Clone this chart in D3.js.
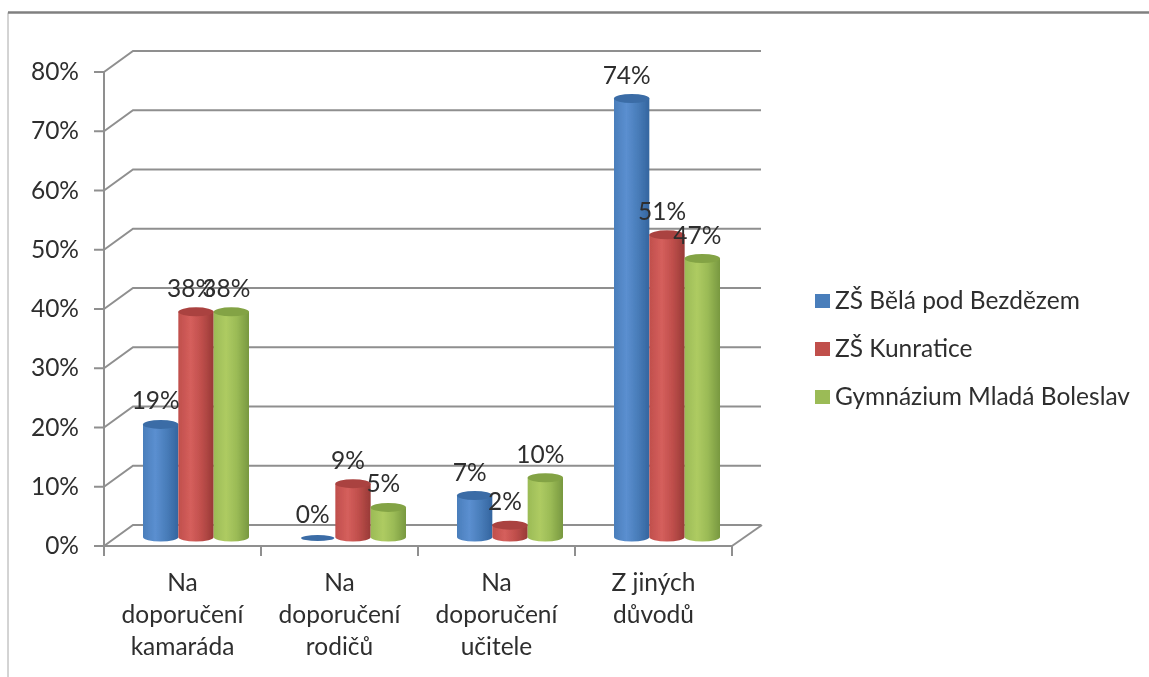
<!DOCTYPE html>
<html><head><meta charset="utf-8">
<script src="https://cdn.jsdelivr.net/npm/d3@7"></script>
<style>html,body{margin:0;padding:0;background:#fff}svg{display:block}text{font-family:Lato,"Open Sans",sans-serif;fill:#2e2e2e}</style>
</head><body><svg id="c" width="1149" height="677"></svg>
<script>
const categories=[["Na","doporučení","kamaráda"],["Na","doporučení","rodičů"],["Na","doporučení","učitele"],["Z jiných","důvodů"]];
const seriesNames=["ZŠ Bělá pod Bezdězem","ZŠ Kunratice","Gymnázium Mladá Boleslav"];
const seriesA=[19,0,7,74];
const seriesB=[38,9,2,51];
const seriesC=[38,5,10,47];
const yTicks=[0,10,20,30,40,50,60,70,80];
const colors=[{l:"#5b8fd0",m:"#4a7ebb",d:"#34659f",t:"#3a6ca6"},{l:"#d55f5c",m:"#c04f4c",d:"#983a37",t:"#aa4340"},{l:"#aecb62",m:"#9bbb56",d:"#789840",t:"#83a344"}];
const svg=d3.select("#c");
const defs=svg.append("defs");
defs.append("filter").attr("id","soft").append("feGaussianBlur").attr("stdDeviation",0.6);
colors.forEach((c,i)=>{const g=defs.append("linearGradient").attr("id","g"+i);
 [[0,c.m],[.35,c.l],[.65,c.m],[1,c.d]].forEach(s=>g.append("stop").attr("offset",s[0]).attr("stop-color",s[1]));});
const root=svg.append("g").attr("filter","url(#soft)");
const grey="#8f8f8f";
const depth={x:29,y:-21};
const fs=24.5;
const x=d3.scaleBand().domain(d3.range(categories.length)).range([104,732]);
const y=d3.scaleLinear().domain([0,80]).range([546,72]);
const inner=d3.scaleBand().domain([0,1,2]).range([39,145]);
// frame
root.append("path").attr("d","M8,677V12.5").attr("fill","none").attr("stroke","#a8a8a8").attr("stroke-width",1);
root.append("path").attr("d","M8,12.5H1149").attr("stroke","#808080").attr("stroke-width",2.5);
// gridlines and side wall
yTicks.forEach(t=>{
 root.append("path").attr("fill","none").attr("stroke",grey).attr("stroke-width",2)
  .attr("d",`M${x.range()[0]},${y(t)}L${x.range()[0]+depth.x},${y(t)+depth.y}H${x.range()[1]+depth.x}`);
 root.append("line").attr("x1",94).attr("x2",104).attr("y1",y(t)).attr("y2",y(t)).attr("stroke",grey).attr("stroke-width",2);
 root.append("text").attr("x",79).attr("y",y(t)+8).attr("text-anchor","end").attr("font-size",fs).text(t+"%");
});
root.append("line").attr("x1",104).attr("x2",104).attr("y1",y(80)).attr("y2",556).attr("stroke",grey).attr("stroke-width",2);
root.append("line").attr("x1",104).attr("x2",732).attr("y1",y(0)).attr("y2",y(0)).attr("stroke",grey).attr("stroke-width",2);
root.append("line").attr("x1",732).attr("x2",762).attr("y1",y(0)).attr("y2",y(0)+depth.y).attr("stroke",grey).attr("stroke-width",2);
d3.range(5).forEach(i=>{const px=i<4?x(i):x.range()[1];
 root.append("line").attr("x1",px).attr("x2",px).attr("y1",546).attr("y2",556).attr("stroke",grey).attr("stroke-width",2);});
// cylinders
const lift=9, ry=4.5;
const allSeries=[seriesA,seriesB,seriesC];
allSeries.forEach((vals,s)=>{
 vals.forEach((v,i)=>{
  const left=x(i)+inner(s), w=inner.bandwidth(), cx=left+w/2, rx=w/2;
  const base=y(0)-lift, top=y(v)-lift;
  const g=root.append("g");
  if(v>0){
   g.append("path").attr("fill",`url(#g${s})`)
    .attr("d",`M${left},${top}V${base}A${rx},${ry} 0 0 0 ${left+w},${base}V${top}Z`);
  }
  g.append("ellipse").attr("cx",cx).attr("cy",v>0?top:base+1).attr("rx",v>0?rx:rx-1).attr("ry",v>0?ry:3).attr("fill",colors[s].t);
 });
});
// data labels
allSeries.forEach((vals,s)=>vals.forEach((v,i)=>{
 const cx=x(i)+inner(s)+inner.bandwidth()/2;
 root.append("text").attr("x",cx-5).attr("y",y(v)-lift-15+(v==0?1:0)).attr("text-anchor","middle").attr("font-size",fs).text(v+"%");
}));
// category labels
categories.forEach((lines,i)=>{
 const cx=x(i)+x.bandwidth()/2;
 const t=root.append("text").attr("text-anchor","middle").attr("font-size",fs);
 lines.forEach((ln,k)=>t.append("tspan").attr("x",cx).attr("y",591+k*32).text(ln));
});
// legend
seriesNames.forEach((n,i)=>{
 const ly=301+i*48;
 root.append("rect").attr("x",815).attr("y",ly-7).attr("width",15).attr("height",14).attr("fill",colors[i].m);
 root.append("text").attr("x",835).attr("y",ly+8).attr("font-size",fs).text(n);
});
</script></body></html>
